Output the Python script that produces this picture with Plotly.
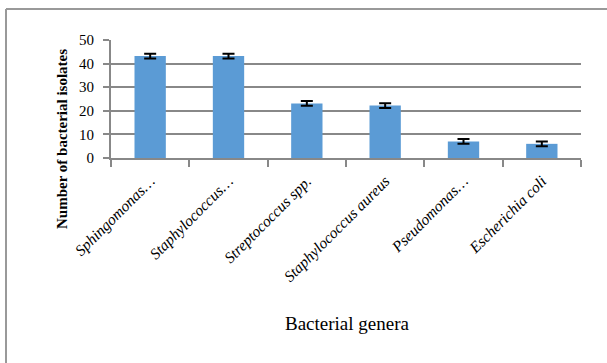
import plotly.graph_objects as go

categories = ["Sphingomonas…", "Staphylococcus…", "Streptococcus spp.",
              "Staphylococcus aureus", "Pseudomonas…", "Escherichia coli"]
values = [43.2, 43.2, 23.1, 22.2, 7.0, 6.0]
errors = [1.0, 1.0, 1.0, 1.0, 1.0, 1.0]
y_ticks = [0, 10, 20, 30, 40, 50]

W, H = 607, 363
L, R, T, B = 111, 26, 40, 205
pw, ph = W - L - R, H - T - B


def px_x(p):
    return (p - L) / pw


def px_y(p):
    return (H - B - p) / ph


fig = go.Figure()
fig.add_trace(go.Bar(
    x=categories, y=values,
    marker=dict(color="#5b9bd5", line=dict(color="#5b9bd5", width=0)),
    error_y=dict(type="data", array=errors, visible=True,
                 color="black", thickness=2, width=6),
    width=0.4,
))

fig.update_layout(
    width=W, height=H,
    margin=dict(l=L, r=R, t=T, b=B, autoexpand=False),
    paper_bgcolor="white", plot_bgcolor="white",
    showlegend=False,
    font=dict(family="Liberation Serif", color="black"),
    xaxis=dict(
        tickangle=-45, automargin=False, ticklabelstandoff=6,
        tickfont=dict(family="Liberation Serif", size=15.5, style="italic"),
        showline=True, linecolor="#888888", linewidth=2,
        ticks="outside", tickson="boundaries", ticklen=7, tickcolor="#888888", tickwidth=2,
        showgrid=False,
    ),
    yaxis=dict(
        range=[0, 50], tickvals=y_ticks, ticktext=[str(v) for v in y_ticks],
        tickfont=dict(size=15), automargin=False, ticklabelstandoff=6,
        showgrid=True, gridcolor="#888888", gridwidth=2,
        showline=True, linecolor="#888888", linewidth=2,
        ticks="outside", ticklen=6, tickcolor="#888888", tickwidth=2,
        zeroline=False,
    ),
)

fig.add_annotation(text="<b>Number of bacterial isolates</b>", textangle=-90,
                   xref="paper", yref="paper", x=px_x(62), y=px_y(139),
                   xanchor="center", yanchor="middle",
                   showarrow=False, font=dict(size=15))
fig.add_annotation(text="Bacterial genera",
                   xref="paper", yref="paper", x=px_x(347), y=px_y(323),
                   xanchor="center", yanchor="middle",
                   showarrow=False, font=dict(size=19))

fig.add_shape(type="line", xref="paper", yref="paper",
              x0=px_x(6), x1=px_x(6), y0=px_y(H), y1=px_y(9),
              line=dict(color="#999999", width=2), layer="below")
fig.add_shape(type="line", xref="paper", yref="paper",
              x0=px_x(6), x1=px_x(W), y0=px_y(9), y1=px_y(9),
              line=dict(color="#999999", width=2), layer="below")

fig.write_html("out.html", config={"displayModeBar": False},
               post_script="document.body.style.margin='0';document.body.style.overflow='hidden';")
